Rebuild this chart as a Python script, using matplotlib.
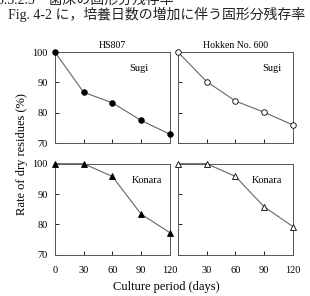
import matplotlib
matplotlib.use("Agg")
from matplotlib import pyplot as plt

# culture days
days = [0, 30, 60, 90, 120]

# rate of dry residues (%)
hs807_sugi = [100, 86.8, 83.3, 77.5, 73.0]
hokken_sugi = [100, 90.3, 83.9, 80.2, 76.0]
hs807_konara = [100, 100, 95.8, 83.4, 77.3]
hokken_konara = [100, 100, 95.8, 85.8, 79.3]

serif = "Liberation Serif"
jp = ["Liberation Serif", "Noto Sans CJK JP", "DejaVu Sans"]

fig = plt.figure(figsize=(3.1, 2.96), dpi=100)

fig.text(-0.01, 1.0, "3.3.2.3\u3000菌床の固形分残存率", family=jp, fontsize=10,
         va="center", ha="left", color="#222222")
fig.text(0.025, 0.953, "Fig. 4-2 に，培養日数の増加に伴う固形分残存率", family=jp,
         fontsize=10, va="center", ha="left", color="#222222")

L, R = 0.177, 0.574
W = 0.371
TOP_Y, BOT_Y = 0.516, 0.139
H = 0.308

panels = [
    (L, TOP_Y, hs807_sugi, "o", "black", "Sugi", 0.81, "HS807", True, False),
    (R, TOP_Y, hokken_sugi, "o", "white", "Sugi", 0.90, "Hokken No. 600", False, False),
    (L, BOT_Y, hs807_konara, "^", "black", "Konara", 0.93, None, True, True),
    (R, BOT_Y, hokken_konara, "^", "white", "Konara", 0.91, None, False, True),
]

for x0, y0, vals, mk, fc, name, nx, title, ylab, xlab in panels:
    ax = fig.add_axes([x0, y0, W, H])
    ax.plot(days, vals, color="#666666", linewidth=0.8, marker=mk,
            markersize=4 if mk == "o" else 4.2, markerfacecolor=fc,
            markeredgecolor="black", markeredgewidth=0.6, clip_on=False, zorder=3)
    ax.set_xlim(0, 120)
    ax.set_ylim(70, 100)
    ax.set_xticks(days)
    ax.set_yticks([70, 80, 90, 100])
    ax.tick_params(direction="in", length=3, width=0.6, labelsize=7.5)
    ax.tick_params(axis="y", pad=5)
    ax.tick_params(axis="x", pad=8)
    for lab in ax.get_xticklabels() + ax.get_yticklabels():
        lab.set_family(serif)
    for s in ax.spines.values():
        s.set_color("#555555")
        s.set_linewidth(0.7)
    if not ylab:
        ax.set_yticklabels([])
    if xlab:
        if x0 == R:
            ax.set_xticklabels(["", "30", "60", "90", "120"])
    else:
        ax.set_xticklabels([])
    ax.text(nx, 0.82, name, transform=ax.transAxes, ha="right", va="center",
            family=serif, fontsize=7.5)
    if title:
        ax.set_title(title, family=serif, fontsize=7, pad=3)

fig.text(0.07, 0.48, "Rate of dry residues (%)", rotation=90, family=serif,
         fontsize=9, ha="center", va="center")
fig.text(0.537, 0.032, "Culture period (days)", family=serif, fontsize=9,
         ha="center", va="center")

fig.savefig("out.png", dpi=100)
